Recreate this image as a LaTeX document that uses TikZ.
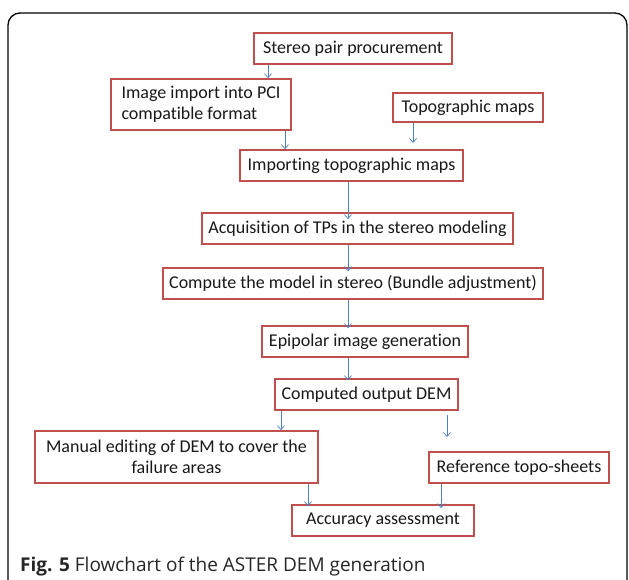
\documentclass[tikz,border=0pt]{standalone}
\usepackage{fontspec}
\setmainfont[Ligatures={NoCommon}]{Carlito}
\newfontfamily\capfont{Open Sans}
\usetikzlibrary{arrows.meta}
\definecolor{boxred}{RGB}{192,80,77}
\definecolor{arrblue}{RGB}{79,129,189}
\tikzset{
  stepbox/.style={draw=boxred, line width=1.6pt, fill=white, inner sep=0pt, align=center, font=\fontsize{18}{21}\selectfont, text=black!90},
  arr/.style={draw=arrblue, line width=0.7pt, -{Straight Barb[length=4pt,width=7pt]}}
}
\begin{document}
\begin{tikzpicture}[x=1pt,y=-1pt]
\useasboundingbox (0,0) rectangle (629,580);
\clip (0,0) rectangle (629,580);
\draw[line width=1.3pt, rounded corners=12pt] (8,600) -- (8,13) -- (627,13) -- (627,600);
\node[stepbox, minimum width=198pt, minimum height=31pt] (stereo) at (353,48.5) {Stereo pair procurement};
\node[stepbox, minimum width=180pt, minimum height=51pt, align=left] (import) at (201,104.5) {Image import into PCI\\compatible format};
\node[stepbox, minimum width=150pt, minimum height=29pt] (topo) at (468,107.5) {Topographic maps};
\node[stepbox, minimum width=223pt, minimum height=31pt] (importing) at (351.5,165.5) {Importing topographic maps};
\node[stepbox, minimum width=311pt, minimum height=31pt] (acq) at (357.5,228.5) {Acquisition of TPs in the stereo modeling};
\node[stepbox, minimum width=380pt, minimum height=31pt] (compute) at (353,283.5) {Compute the model in stereo (Bundle adjustment)};
\node[stepbox, minimum width=206pt, minimum height=31pt] (epi) at (365,341.5) {Epipolar image generation};
\node[stepbox, minimum width=183pt, minimum height=31pt] (dem) at (366.5,394.5) {Computed output DEM};
\node[stepbox, minimum width=283pt, minimum height=52pt] (manual) at (176.5,457) {Manual editing of DEM to cover the\\failure areas};
\node[stepbox, minimum width=180pt, minimum height=31pt] (ref) at (519,467.5) {Reference topo-sheets};
\node[stepbox, minimum width=182pt, minimum height=31pt] (acc) at (383,520.5) {Accuracy assessment};
\node[anchor=base west, inner sep=0pt, font=\capfont\fontsize{19}{22}\selectfont, text=black!85] (cap) at (20,571) {\textbf{Fig. 5} Flowchart of the ASTER DEM generation};
\coordinate (x1) at (268,0);
\coordinate (x2) at (285,0);
\coordinate (x3) at (413,0);
\coordinate (x4) at (348,0);
\coordinate (x5) at (281,0);
\coordinate (x6) at (447,0);
\coordinate (x7) at (308,0);
\coordinate (x8) at (441,0);
\coordinate (e3) at (413,143);
\coordinate (s6) at (447,415);
\coordinate (e6) at (447,437);
\draw[arr] (stereo.south -| x1) -- (import.north -| x1);
\draw[arr] (import.south -| x2) -- (importing.north -| x2);
\draw[arr] (topo.south -| x3) -- (e3);
\draw[arr] (importing.south -| x4) -- ([yshift=-7pt]acq.north -| x4);
\draw[arr] (acq.south -| x4) -- ([yshift=-4pt]compute.north -| x4);
\draw[arr] (compute.south -| x4) -- ([yshift=-3pt]epi.north -| x4);
\draw[arr] (epi.south -| x4) -- ([yshift=-2pt]dem.north -| x4);
\draw[arr] (dem.south -| x5) -- (manual.north -| x5);
\draw[arr] (s6) -- (e6);
\draw[arr] (manual.south -| x7) -- ([yshift=-2pt]acc.north -| x7);
\draw[arr] (ref.south -| x8) -- ([yshift=-4pt]acc.north -| x8);
\end{tikzpicture}
\end{document}
